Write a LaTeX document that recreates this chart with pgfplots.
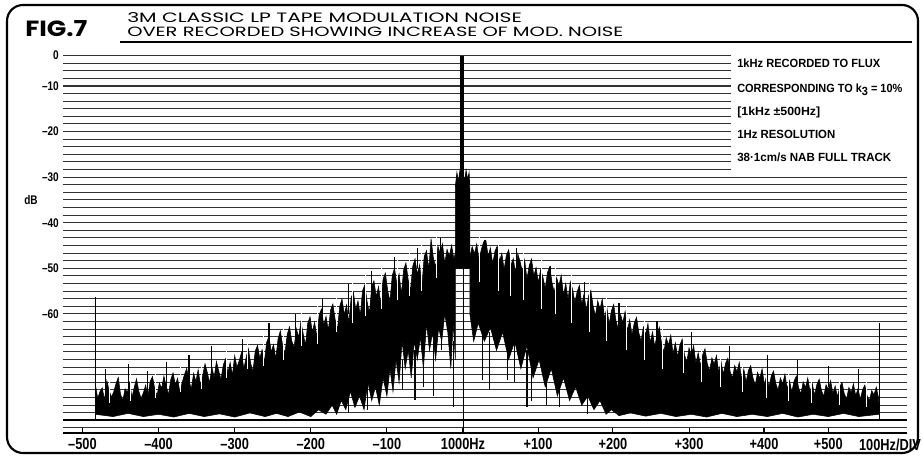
\documentclass[border=0pt]{standalone}
\usepackage{pgfplots}
\pgfplotsset{compat=1.18}
\usepackage{fontspec}
\setmainfont{Liberation Sans}
\newfontfamily\titlefont{Poppins}
\newfontfamily\labfont[FakeStretch=0.8]{Liberation Sans}
\newcommand\fitw[2]{\resizebox{#1}{\height}{#2}}

\begin{document}
\begin{tikzpicture}[x=0.75pt,y=0.75pt]
% picture measured in reference pixels, y upward
\path[use as bounding box] (0,0) rectangle (923,457);
\draw[line width=1.6pt, rounded corners=12pt] (7,4) rectangle (918,452);
\coordinate (plotorigin) at (63,24);

% titles
\node[anchor=base west, inner sep=0pt] at (25,420)
  {\resizebox{46.5pt}{12pt}{\titlefont\bfseries FIG.7}};
\node[anchor=base west, inner sep=0pt] at (127,434)
  {\resizebox{296pt}{7.5pt}{\titlefont 3M CLASSIC LP TAPE MODULATION NOISE}};
\node[anchor=base west, inner sep=0pt] at (127,420)
  {\resizebox{372pt}{7.1pt}{\titlefont OVER RECORDED SHOWING INCREASE OF MOD. NOISE}};
\draw[line width=0.9pt] (120,415) -- (912,415);

\begin{axis}[
    at={(plotorigin)}, anchor=south west,
    scale only axis, width=633pt, height=283.5pt,
    xmin=-525.6, xmax=583.4,
    ymin=-86.1, ymax=-3.2,
    axis line style={draw=none},
    xtick={-500,-400,-300,-200,-100,0,98.6,197,297,395.5,480},
    xticklabels={–500,–400,–300,–200,–100,1000Hz,+100,+200,+300,+400,+500},
    xtick pos=bottom, xtick align=inside,
    major x tick style={line width=0.8pt, black},
    major tick length=3.5pt,
    xticklabel style={font=\fontsize{12}{12}\labfont\bfseries, inner sep=0pt, yshift=-3.75pt},
    ytick={-3.3333,-10,-20,-30,-40,-50,-60},
    yticklabels={0,–10,–20,–30,–40,–50,–60},
    ytick style={draw=none},
    yticklabel style={font=\fontsize{9.4}{9.4}\labfont\bfseries, inner sep=0pt, xshift=-3pt},
    minor ytick={-85,-83.33333,...,-3.3},
    ymajorgrids, yminorgrids,
    major grid style={line width=0.75pt, black!80},
    minor grid style={line width=0.75pt, black!80},
    clip=false,
]
% text box on the right hides the grid
\fill[white] (axis cs:352,-2.5) rectangle (axis cs:590,-29.2);
% bottom scale line
\draw[line width=0.8pt] (axis cs:-525.6,-86.1) -- (axis cs:583.4,-86.1);
% floor line
\addplot[line width=1.5pt] coordinates {(-525.6,-83.3333) (583.4,-83.3333)};

% noise below the tone (solid part), upper edge then lower edge
\addplot[fill=black, draw=black, line width=0.4pt] coordinates {
(-483,-83.3)
(-483,-75.5) (-480,-78.5) (-477,-77) (-474,-76.2) (-471,-78.9) (-468,-74.6) (-465,-76.8) (-462,-78.2)
(-459,-77.1) (-456,-75.3) (-453,-73.9) (-450,-77.6) (-447,-79.0) (-444,-76.4) (-441,-77.2) (-438,-75.0)
(-435,-78.3) (-432,-76.1) (-429,-74.2) (-426,-76.9) (-423,-78.5) (-420,-77.3) (-417,-75.6) (-414,-78.0)
(-411,-74.8) (-408,-73.7) (-405,-76.5) (-402,-77.9) (-399,-75.1) (-396,-76.3) (-393,-73.6) (-390,-75.8)
(-387,-77.7) (-384,-74.4) (-381,-72.9) (-378,-75.5) (-375,-74.1) (-372,-77.2) (-369,-75.0) (-366,-73.3)
(-363,-71.9) (-360,-74.7) (-357,-76.4) (-354,-73.0) (-351,-74.8) (-348,-72.2) (-345,-75.6) (-342,-73.4)
(-339,-70.9) (-336,-72.8) (-333,-75.1) (-330,-71.6) (-327,-73.9) (-324,-70.4) (-321,-72.5) (-318,-74.3)
(-315,-71.2) (-312,-69.8) (-309,-72.9) (-306,-70.6) (-303,-73.4) (-300,-69.1) (-297,-71.7) (-294,-70.2)
(-291,-68.4) (-288,-72.0) (-285,-69.5) (-282,-67.6) (-279,-70.8) (-276,-72.6) (-273,-68.1) (-270,-66.9)
(-267,-69.7) (-264,-67.8) (-261,-70.5) (-258,-66.2) (-255,-64.9) (-252,-68.3) (-249,-66.7) (-246,-69.8)
(-243,-65.4) (-240,-63.7) (-237,-66.9) (-234,-68.6) (-231,-64.5) (-228,-62.8) (-225,-65.9) (-222,-67.4)
(-219,-63.2) (-216,-65.1) (-213,-61.7) (-210,-64.3) (-207,-66.8) (-204,-62.0) (-201,-60.6) (-198,-63.9)
(-195,-61.8) (-192,-65.0) (-189,-60.2) (-186,-58.9) (-183,-62.4) (-180,-60.5) (-177,-63.6) (-174,-59.1)
(-171,-57.8) (-168,-61.2) (-165,-63.4) (-162,-58.3) (-159,-56.7) (-156,-60.1) (-153,-58.0) (-150,-61.9)
(-147,-56.4) (-144,-55.2) (-141,-59.0) (-138,-57.1) (-135,-60.3) (-132,-54.9) (-129,-53.6) (-126,-57.3)
(-123,-59.8) (-120,-54.1) (-117,-52.7) (-114,-56.2) (-111,-54.0) (-108,-57.9) (-105,-52.3) (-102,-51.0)
(-99,-54.8) (-96,-57.2) (-93,-51.6) (-90,-49.9) (-87,-53.4) (-84,-51.2) (-81,-55.6) (-78,-50.3)
(-75,-48.8) (-72,-52.5) (-69,-54.7) (-66,-49.5) (-63,-47.9) (-60,-51.3) (-57,-49.2) (-54,-53.8)
(-51,-47.4) (-48,-46.1) (-45,-50.2) (-42,-43.5) (-39,-47.6) (-36,-49.8) (-33,-45.1) (-30,-46.7)
(-27,-44.6) (-24,-48.9) (-21,-45.8) (-18,-47.3) (-15,-44.9) (-12,-48.0) (-10,-46.5)
(-10,-70) (-13,-62) (-16,-72) (-20,-64) (-24,-60) (-28,-66) (-32,-63) (-36,-70)
(-40,-64) (-44,-68) (-48,-62) (-52,-72) (-56,-65) (-60,-70) (-64,-66) (-68,-74)
(-72,-68) (-76,-72) (-80,-66) (-84,-75) (-88,-70) (-92,-77) (-96,-72) (-100,-78)
(-105,-74) (-110,-80) (-115,-76) (-120,-79) (-125,-75) (-130,-81) (-136,-78) (-142,-80.5)
(-148,-77) (-154,-81) (-160,-79) (-166,-82) (-172,-80) (-180,-82) (-190,-81) (-200,-82.5)
(-215,-81.5) (-230,-82.5) (-245,-81.8) (-260,-82.5) (-280,-81.7) (-300,-82.6) (-320,-81.9)
(-340,-82.5) (-360,-81.8) (-380,-82.6) (-400,-82) (-420,-82.5) (-440,-81.8) (-460,-82.5) (-483,-82)
} -- cycle;

% noise above the tone
\addplot[fill=black, draw=black, line width=0.4pt] coordinates {
(9,-60)
(9,-47.5) (12,-45.2) (15,-46.8) (18,-44.6) (21,-48.1) (24,-45.9) (27,-44.2) (30,-43.8)
(33,-47.3) (36,-45.5) (39,-49.0) (42,-46.2) (45,-45.1) (48,-48.4) (51,-46.7) (54,-50.2)
(57,-47.1) (60,-45.9) (63,-49.3) (66,-47.8) (69,-51.0) (72,-46.8) (75,-48.5) (78,-50.7)
(81,-48.1) (84,-52.3) (87,-49.4) (90,-47.9) (93,-51.6) (96,-49.8) (99,-53.1) (102,-50.2)
(105,-51.9) (108,-54.4) (111,-50.9) (114,-49.6) (117,-53.2) (120,-55.3) (123,-52.0) (126,-53.8)
(129,-51.5) (132,-55.9) (135,-53.3) (138,-56.8) (141,-52.9) (144,-54.6) (147,-57.4) (150,-55.1)
(153,-53.7) (156,-57.9) (159,-55.6) (162,-59.2) (165,-56.0) (168,-54.8) (171,-58.3) (174,-60.4)
(177,-57.1) (180,-58.9) (183,-56.7) (186,-61.0) (189,-58.5) (192,-62.2) (195,-59.3) (198,-57.9)
(201,-61.5) (204,-63.3) (207,-60.1) (210,-61.9) (213,-59.4) (216,-63.7) (219,-61.2) (222,-64.6)
(225,-62.0) (228,-60.7) (231,-64.1) (234,-66.0) (237,-62.8) (240,-64.5) (243,-62.1) (246,-66.3)
(249,-63.9) (252,-67.2) (255,-64.4) (258,-62.9) (261,-66.6) (264,-68.3) (267,-65.2) (270,-66.8)
(273,-64.6) (276,-68.7) (279,-66.3) (282,-69.4) (285,-66.8) (288,-65.5) (291,-68.9) (294,-70.6)
(297,-67.4) (300,-69.1) (303,-66.9) (306,-70.8) (309,-68.5) (312,-71.3) (315,-68.9) (318,-67.6)
(321,-70.9) (324,-72.5) (327,-69.6) (330,-71.0) (333,-69.1) (336,-72.8) (339,-70.4) (342,-73.2)
(345,-70.8) (348,-69.7) (351,-72.6) (354,-74.1) (357,-71.3) (360,-72.7) (363,-70.6) (366,-74.3)
(369,-72.1) (372,-74.9) (375,-72.4) (378,-71.3) (381,-74.0) (384,-75.6) (387,-72.8) (390,-74.1)
(393,-72.0) (396,-75.5) (399,-73.4) (402,-76.0) (405,-73.6) (408,-72.5) (411,-75.2) (414,-76.7)
(417,-74.0) (420,-75.3) (423,-73.2) (426,-76.4) (429,-74.6) (432,-77.1) (435,-74.7) (438,-73.6)
(441,-76.2) (444,-77.5) (447,-74.9) (450,-76.1) (453,-74.0) (456,-77.0) (459,-75.3) (462,-77.8)
(465,-75.4) (468,-74.3) (471,-76.8) (474,-78.0) (477,-75.5) (480,-76.6) (483,-74.6) (486,-77.4)
(489,-75.8) (492,-78.2) (495,-76.0) (498,-75.0) (501,-77.5) (504,-78.6) (507,-76.1) (510,-77.2)
(513,-75.3) (516,-77.9) (519,-76.4) (522,-78.7) (525,-76.6) (528,-75.6) (531,-78.0) (534,-79.0)
(537,-76.8) (540,-77.7) (543,-76.0) (546,-78.4) (547,-82)
(520,-82.5) (500,-81.8) (480,-82.5) (460,-82) (440,-82.6) (420,-81.8) (400,-82.5) (380,-82)
(360,-82.5) (340,-81.8) (320,-82.6) (300,-82) (280,-82.5) (260,-81.8) (240,-82.4) (220,-81.7)
(205,-82.3) (195,-81) (188,-82) (180,-79) (172,-81) (164,-78) (156,-80) (148,-76)
(140,-79) (132,-74) (124,-78) (116,-72) (108,-76) (100,-70) (92,-74) (84,-67)
(76,-72) (68,-66) (60,-70) (52,-64) (44,-68) (36,-63) (28,-66) (20,-62) (14,-66)
} -- cycle;

% narrow dips inside the noise
\addplot[white, line width=0.55pt, unbounded coords=jump] coordinates {
(-465,-74) (-465,-79.5) (nan,nan) (-437,-73) (-437,-79) (nan,nan)
(-404,-72) (-404,-78.5) (nan,nan) (-371,-71) (-371,-77) (nan,nan)
(-344,-70) (-344,-76.5) (nan,nan) (-311,-67) (-311,-74) (nan,nan)
(-283,-65) (-283,-72) (nan,nan) (-262,-64) (-262,-71.5) (nan,nan)
(-236,-62) (-236,-70) (nan,nan) (-212,-59) (-212,-67) (nan,nan)
(-191,-58) (-191,-66.5) (nan,nan) (-167,-56) (-167,-64) (nan,nan)
(-146,-53) (-146,-62) (nan,nan) (-128,-51) (-128,-60.5) (nan,nan)
(-107,-50) (-107,-59) (nan,nan) (-86,-48) (-86,-57) (nan,nan)
(-70,-46) (-70,-56) (nan,nan) (-55,-44) (-55,-55) (nan,nan)
(-35,-42) (-35,-52) (nan,nan)
(22,-42) (22,-53) (nan,nan) (47,-44) (47,-55) (nan,nan)
(62,-45) (62,-56) (nan,nan) (79,-46) (79,-57) (nan,nan)
(103,-48) (103,-59) (nan,nan) (122,-50) (122,-60) (nan,nan)
(143,-51) (143,-62) (nan,nan) (166,-53) (166,-64) (nan,nan)
(189,-56) (189,-66) (nan,nan) (214,-58) (214,-68) (nan,nan)
(238,-61) (238,-70) (nan,nan) (262,-63) (262,-72) (nan,nan)
(289,-65) (289,-73) (nan,nan) (313,-67) (313,-75) (nan,nan)
(338,-69) (338,-76) (nan,nan) (367,-70) (367,-77) (nan,nan)
(398,-72) (398,-78.5) (nan,nan) (427,-73) (427,-79) (nan,nan)
(458,-74) (458,-79.5) (nan,nan) (494,-75) (494,-80) (nan,nan)
(530,-75) (530,-80.5)
};

% sidebands close to the tone
\addplot[fill=black, draw=black, line width=0.5pt] coordinates {
(-10,-50) (-10,-32) (-8,-29) (-6,-31) (-4,-28.5) (-2,-30) (0,-29) (2,-31)
(4,-28.5) (6,-30.5) (8,-29) (9,-33) (9,-50)
} -- cycle;

% single spectral lines
\addplot[line width=0.9pt, unbounded coords=jump] coordinates {
(-483,-83.3) (-483,-56.2) (nan,nan) (547,-83.3) (547,-62) (nan,nan)
(-470,-79) (-470,-72) (nan,nan) (-440,-79) (-440,-71) (nan,nan)
(-415,-79) (-415,-72.5) (nan,nan) (-390,-78) (-390,-70.5) (nan,nan)
(-360,-76) (-360,-69) (nan,nan) (-330,-74) (-330,-67) (nan,nan)
(-290,-72) (-290,-65.5) (nan,nan) (-255,-69) (-255,-62) (nan,nan)
(-220,-66) (-220,-60) (nan,nan) (-185,-62) (-185,-56.5) (nan,nan)
(-150,-60) (-150,-53.5) (nan,nan) (-120,-56) (-120,-50.5) (nan,nan)
(-90,-54) (-90,-47.5) (nan,nan) (-60,-50) (-60,-45.5) (nan,nan)
(-30,-47) (-30,-43.3) (nan,nan) (29,-46) (29,-43.8) (nan,nan)
(70,-50) (70,-45.5) (nan,nan) (115,-54) (115,-49.5) (nan,nan)
(160,-58) (160,-53) (nan,nan) (205,-63) (205,-57.5) (nan,nan)
(255,-67) (255,-61.5) (nan,nan) (300,-70) (300,-64) (nan,nan)
(350,-72) (350,-67) (nan,nan) (400,-75) (400,-69) (nan,nan)
(440,-76) (440,-70) (nan,nan) (480,-76) (480,-71.5) (nan,nan)
(520,-78) (520,-72) (nan,nan)
(-150,-76) (-150,-81.7) (nan,nan) (-126,-75) (-126,-81) (nan,nan)
(-79,-70) (-79,-76.7) (nan,nan) (-63,-68) (-63,-78.9) (nan,nan)
(-52,-70) (-52,-76) (nan,nan) (-39,-66) (-39,-78) (nan,nan)
(-28,-62) (-28,-67.9) (nan,nan) (-13,-66) (-13,-80.4) (nan,nan)
(26,-62) (26,-74.5) (nan,nan) (35,-64) (35,-76.7) (nan,nan)
(58,-66) (58,-74.5) (nan,nan) (68,-66) (68,-75) (nan,nan)
(84,-68) (84,-80.4) (nan,nan) (90,-70) (90,-79) (nan,nan)
(110,-72) (110,-80) (nan,nan) (127,-74) (127,-80.5) (nan,nan)
(164,-78) (164,-82)
};

% the 1 kHz tone and the centre line
\addplot[line width=2.2pt] coordinates {(-1.5,-46) (-1.5,-3.3333)};
\addplot[line width=0.6pt] coordinates {(0,-86.1) (0,-3.3333)};
\end{axis}

\node[anchor=base, inner sep=0pt] at (31,252) {\fontsize{9.4}{9.4}\labfont\bfseries dB};
\node[anchor=base, inner sep=0pt] at (890,7) {\fontsize{12}{12}\labfont\bfseries 100Hz/DIV};

% notes in the box
\begin{scope}[every node/.style={anchor=base west, inner sep=0pt, font=\fontsize{8.9}{8.9}\labfont\bfseries}]
\node at (737,389) {\fitw{107.25pt}{1kHz RECORDED TO FLUX}};
\node at (737,364) {\fitw{123.75pt}{CORRESPONDING TO k\raisebox{-2pt}{3} = 10\%}};
\node at (737,341) {\fitw{62.25pt}{[1kHz ±500Hz]}};
\node at (737,318) {\fitw{73.5pt}{1Hz RESOLUTION}};
\node at (737,295.5) {\fitw{115.5pt}{38·1cm/s NAB FULL TRACK}};
\end{scope}
\end{tikzpicture}
\end{document}
